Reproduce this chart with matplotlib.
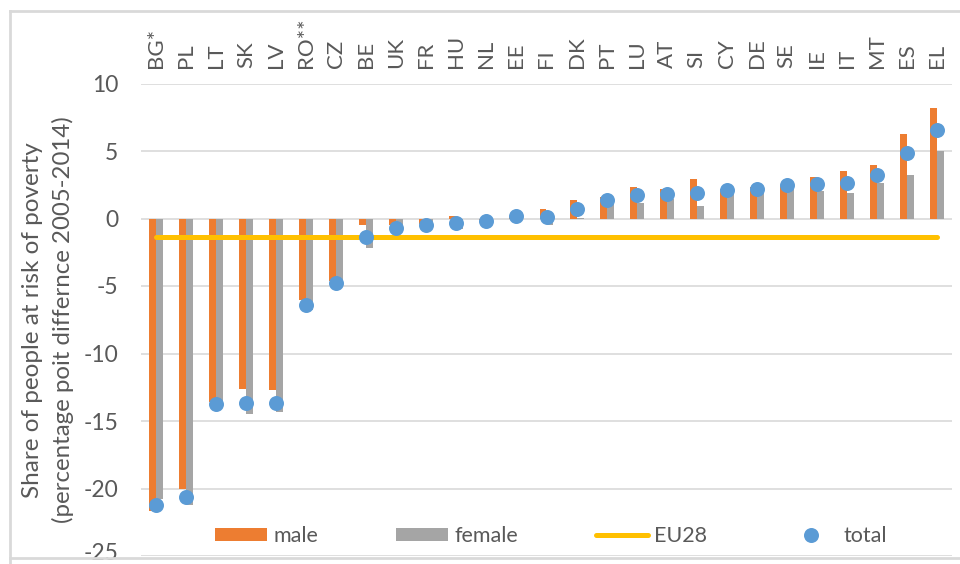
import matplotlib.pyplot as plt
from matplotlib.lines import Line2D
from matplotlib.transforms import ScaledTranslation
import numpy as np

# change 2005-2014 in share of people at risk of poverty, percentage points
countries = ["BG*", "PL", "LT", "SK", "LV", "RO**", "CZ", "BE", "UK", "FR",
             "HU", "NL", "EE", "FI", "DK", "PT", "LU", "AT", "SI", "CY",
             "DE", "SE", "IE", "IT", "MT", "ES", "EL"]
male = [-21.7, -20.0, -13.6, -12.6, -12.7, -6.0, -4.6, -0.5, -0.5, -0.4,
        0.15, -0.1, 0.2, 0.7, 1.4, 1.6, 2.3, 2.2, 2.9, 2.2,
        2.3, 2.4, 3.05, 3.5, 4.0, 6.25, 8.15]
female = [-20.8, -21.2, -13.9, -14.45, -14.3, -6.8, -5.1, -2.2, -0.9, -0.5,
          -0.75, -0.2, 0.1, -0.5, 0.05, 1.1, 1.15, 1.45, 0.95, 2.0,
          2.0, 2.2, 2.05, 1.9, 2.6, 3.2, 5.0]
total = [-21.2, -20.6, -13.75, -13.65, -13.65, -6.4, -4.8, -1.35, -0.7, -0.45,
         -0.3, -0.15, 0.15, 0.1, 0.7, 1.4, 1.75, 1.8, 1.9, 2.1,
         2.2, 2.5, 2.55, 2.65, 3.2, 4.85, 6.55]
eu28 = -1.4

ORANGE = "#ED7D31"
GREY = "#A5A5A5"
BLUE = "#5B9BD5"
GOLD = "#FFC000"
TXT = "#595959"
GRID = "#D9D9D9"
FONT = "Lato"

plt.rcParams['font.family'] = [FONT, 'DejaVu Sans']
plt.rcParams['axes.unicode_minus'] = False

fig = plt.figure(figsize=(9.6, 5.64), dpi=100)
W, H = 960, 564
ax = fig.add_axes([141 / W, 1 - 556 / H, 811 / W, (556 - 83.5) / H])

x = np.arange(len(countries))
bw = 0.233
b1 = ax.bar(x - bw / 2, male, bw, color=ORANGE, zorder=2)
b2 = ax.bar(x + bw / 2, female, bw, color=GREY, zorder=2)
l1, = ax.plot([x[0], x[-1]], [eu28, eu28], color=GOLD, lw=3.6,
              solid_capstyle='round', zorder=3)
l2, = ax.plot(x, total, 'o', color=BLUE, ms=10.8, mec='none', zorder=4)

ax.set_xlim(-0.5, len(countries) - 0.5)
ax.set_ylim(-25, 10)
ax.set_yticks(range(-25, 11, 5))
ax.yaxis.grid(True, color=GRID, lw=1.2)
ax.set_axisbelow(True)
for s in ax.spines.values():
    s.set_visible(False)

ax.xaxis.tick_top()
ax.set_xticks(x)
ax.set_xticklabels(countries, rotation=90)
ax.tick_params(axis='x', length=0, pad=11.5, labelsize=16, labelcolor=TXT)
ax.tick_params(axis='y', length=0, pad=16.5, labelsize=16.5, labelcolor=TXT)

# lowest tick label sits on the frame, lift it a little
lab = ax.get_yticklabels()[0]
lab.set_transform(lab.get_transform() + ScaledTranslation(0, 3 / 72, fig.dpi_scale_trans))

# y label, two lines
fig.text(33 / W, 1 - 320 / H, "Share of people at risk of poverty",
         rotation=90, ha='center', va='center', fontsize=17.5, color=TXT)
fig.text(63 / W, 1 - 320 / H, "(percentage poit differnce 2005-2014)",
         rotation=90, ha='center', va='center', fontsize=17.3, color=TXT)

# chart frame
fig.add_artist(Line2D([10 / W, 1], [1 - 11 / H, 1 - 11 / H], color=GRID, lw=2))
fig.add_artist(Line2D([10 / W, 10 / W], [0, 1 - 11 / H], color=GRID, lw=2))
fig.add_artist(Line2D([10 / W, 1], [1 - 558 / H, 1 - 558 / H], color=GRID, lw=2))

fs = 15.5
fpx = fs * 100 / 72
fig.legend([b1, b2, l1, l2], ["male", "female", "EU28", "total"], ncol=4,
           loc='center', bbox_to_anchor=(551 / W, 1 - 536 / H),
           frameon=False, fontsize=fs, labelcolor=TXT, numpoints=1,
           handlelength=52 / fpx, handleheight=0.55, handletextpad=6 / fpx,
           columnspacing=78 / fpx, borderpad=0, borderaxespad=0)

fig.savefig("out.png", dpi=100)
